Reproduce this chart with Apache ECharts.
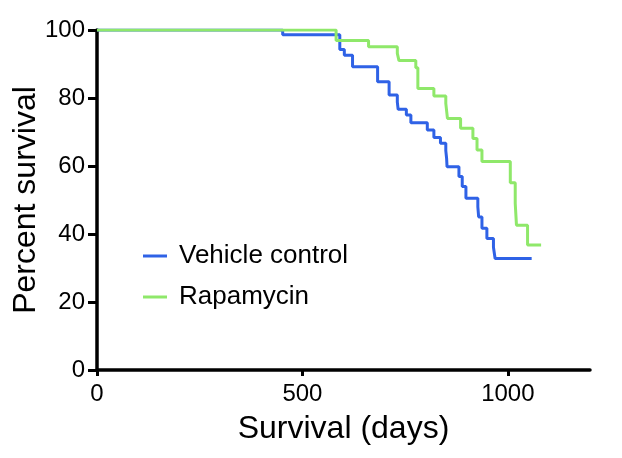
<!DOCTYPE html>
<html>
<head>
<meta charset="utf-8">
<script src="https://cdn.jsdelivr.net/npm/echarts@6/dist/echarts.min.js"></script>
<style>html,body{margin:0;padding:0;background:#fff}#c{width:622px;height:458px}</style>
</head>
<body>
<div id="c"></div>
<script>
var seriesNames = ['Vehicle control', 'Rapamycin'];
var vehicleDays = [0, 452, 591, 602, 622, 683, 711, 731, 733, 753, 764, 804, 820, 836, 849, 851, 852, 881, 889, 898, 927, 929, 937, 949, 965, 969, 1058];
var vehicleSurv = [100, 98.6, 94.3, 92.6, 89.2, 84.8, 80.9, 78.8, 76.7, 75.0, 72.7, 70.6, 68.4, 66.7, 64.5, 62.2, 59.8, 56.9, 54.0, 50.5, 48.0, 45.0, 41.7, 38.7, 36.1, 32.8, 32.8];
var rapaDays = [0, 582, 661, 731, 735, 776, 781, 820, 849, 853, 885, 915, 925, 937, 1006, 1018, 1021, 1048, 1081];
var rapaSurv = [100, 96.9, 95.1, 93.1, 91.0, 88.9, 82.8, 80.6, 78.4, 74.0, 71.1, 68.1, 64.7, 61.3, 55.1, 49.0, 42.6, 36.8, 36.8];
var xTicks = [0, 500, 1000];
var yTicks = [0, 20, 40, 60, 80, 100];
var colors = ['#2f62e6', '#8fe86a'];

function pairs(xs, ys) { return xs.map(function (x, i) { return [x, ys[i]]; }); }

var font = 'Liberation Sans, Arial, Helvetica, sans-serif';
var chart = echarts.init(document.getElementById('c'), null, {renderer: 'canvas'});
chart.setOption({
  animation: false,
  backgroundColor: '#ffffff',
  grid: {left: 97, right: 32, top: 30, bottom: 88, containLabel: false, outerBoundsMode: 'none'},
  legend: {
    orient: 'vertical', left: 143, top: 243, itemWidth: 24, itemHeight: 3, itemGap: 15,
    icon: 'rect', padding: 0,
    textStyle: {fontSize: 26, color: '#000', fontFamily: font, padding: [0, 0, 0, 7]},
    data: seriesNames
  },
  xAxis: {
    type: 'value', min: 0, max: 1200,
    name: 'Survival (days)', nameLocation: 'middle', nameGap: 43, nameMoveOverlap: false,
    nameTextStyle: {fontSize: 32, color: '#000', fontFamily: font},
    axisLine: {show: true, onZero: false, lineStyle: {color: '#000', width: 3.5}},
    axisTick: {show: true, length: 6, lineStyle: {color: '#000', width: 3}, customValues: xTicks},
    axisLabel: {fontSize: 24, color: '#000', fontFamily: font, margin: 12, customValues: xTicks,
      formatter: function (v) { return String(v); }},
    splitLine: {show: false}
  },
  yAxis: {
    type: 'value', min: 0, max: 100, interval: 20,
    name: 'Percent survival', nameLocation: 'middle', nameGap: 55, nameMoveOverlap: false,
    nameTextStyle: {fontSize: 32, color: '#000', fontFamily: font},
    axisLine: {show: true, lineStyle: {color: '#000', width: 3.5}},
    axisTick: {show: true, length: 9, lineStyle: {color: '#000', width: 3}, customValues: yTicks},
    axisLabel: {fontSize: 24, color: '#000', fontFamily: font, margin: 12, customValues: yTicks,
      formatter: function (v) { return String(v); }},
    splitLine: {show: false}
  },
  series: [
    {name: seriesNames[0], type: 'line', step: 'end', symbol: 'none', data: pairs(vehicleDays, vehicleSurv),
     lineStyle: {color: colors[0], width: 3}, itemStyle: {color: colors[0]}, z: 2},
    {name: seriesNames[1], type: 'line', step: 'end', symbol: 'none', data: pairs(rapaDays, rapaSurv),
     lineStyle: {color: colors[1], width: 3}, itemStyle: {color: colors[1]}, z: 3}
  ]
});
</script>
</body>
</html>
